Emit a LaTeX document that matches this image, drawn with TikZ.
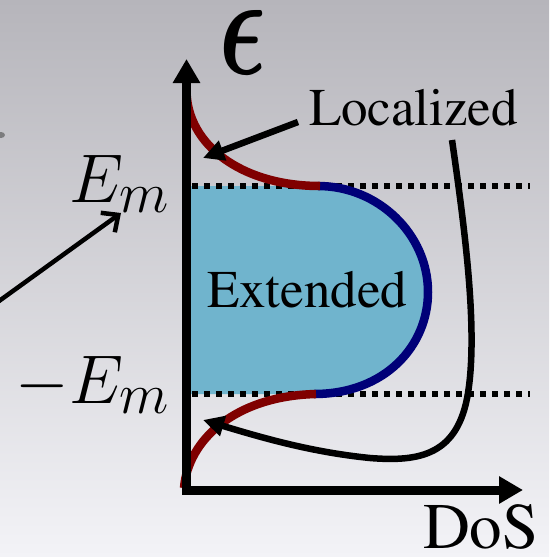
\documentclass[tikz,border=0pt]{standalone}
\usetikzlibrary{arrows.meta}
\definecolor{bgtop}{RGB}{182,181,187}
\definecolor{bgbot}{RGB}{243,243,247}
\definecolor{extfill}{RGB}{112,180,205}
\definecolor{locred}{RGB}{128,0,0}
\definecolor{extblue}{RGB}{0,0,120}
\newcommand{\bigmath}[1]{\scalebox{2.77}{\Huge $#1$}}
\newcommand{\timesT}{\fontencoding{T1}\fontfamily{ptm}\selectfont}
\begin{document}
\begin{tikzpicture}[x=1pt,y=-1pt,
  axis/.style={line width=9pt,-{Triangle[length=24pt,width=26pt]}},
  guide/.style={line width=6pt,dash pattern=on 5.5pt off 6.5pt},
  redcurve/.style={line width=8.5pt,draw=locred},
  bluecurve/.style={line width=8.5pt,draw=extblue},
  pointer/.style={line width=6.5pt,-{Triangle[length=21pt,width=20pt]}},
  thinpointer/.style={line width=4.5pt,-{Straight Barb[length=13pt,width=24pt]}},
  lbl/.style={inner sep=0pt,outer sep=0pt},
  serifbig/.style={lbl,font=\timesT\fontsize{53}{60}\selectfont}
]
\useasboundingbox (0,0) rectangle (549,557);
\shade[top color=bgtop,bottom color=bgbot] (0,0) rectangle (549,557);
\fill[gray!60!black,opacity=0.6] (1,135) ellipse (4pt and 3pt);

% extended region
\fill[extfill] (186,186) -- (320,186) .. controls (378,186) and (428,234) .. (428,292)
  .. controls (428,346) and (385,394) .. (316,394) -- (186,394) -- cycle;

% dotted guide lines
\coordinate (gt1) at (192,186); \coordinate (gt2) at (530,186);
\coordinate (gb1) at (192,394); \coordinate (gb2) at (530,394);
\draw[guide] (gt1) -- (gt2);
\draw[guide] (gb1) -- (gb2);

% curves
\draw[bluecurve] (318,186) .. controls (378,186) and (428,234) .. (428,292)
  .. controls (428,346) and (385,394) .. (314,394);
\draw[redcurve] (186.5,90) .. controls (186.5,145) and (242,186) .. (320,186);
\draw[redcurve] (184,488) .. controls (188,440) and (235,396) .. (316,394);

% axes
\coordinate (o) at (186.5,494);
\coordinate (ytip) at (186.5,59);
\coordinate (o2) at (182,490);
\coordinate (xtip) at (523,490);
\draw[axis] (o) -- (ytip);
\draw[axis] (o2) -- (xtip);

% labels
\node[lbl,anchor=center] (eps) at (243.5,42) {\resizebox*{47pt}{64pt}{\boldmath$\epsilon$}};
\node[lbl,anchor=base east] (em) at (170,202) {\bigmath{E_m}};
\node[lbl,anchor=base east] (mem) at (170,403) {\bigmath{-E_m}};
\node[serifbig,anchor=base west] (ext) at (207,307) {Extended};
\node[serifbig,anchor=base west] (loc) at (309,125) {Localized};
\node[lbl,font=\timesT\fontsize{65}{72}\selectfont,anchor=base west] (dos) at (423,548) {DoS};

% pointers
\coordinate (la) at (298,122);
\coordinate (lt) at (203,158);
\draw[pointer] (la) -- (lt);
\coordinate (lb) at (452,140);
\coordinate (lbt) at (203,420);
\draw[pointer] (lb) .. controls (465,230) and (478,330) .. (468,393)
  .. controls (458,455) and (420,462) .. (370,458)
  .. controls (310,452) and (260,437) .. (lbt);
\coordinate (ls) at (-12,309);
\coordinate (lst) at (121,213);
\draw[thinpointer] (ls) -- (lst);
\end{tikzpicture}
\end{document}
